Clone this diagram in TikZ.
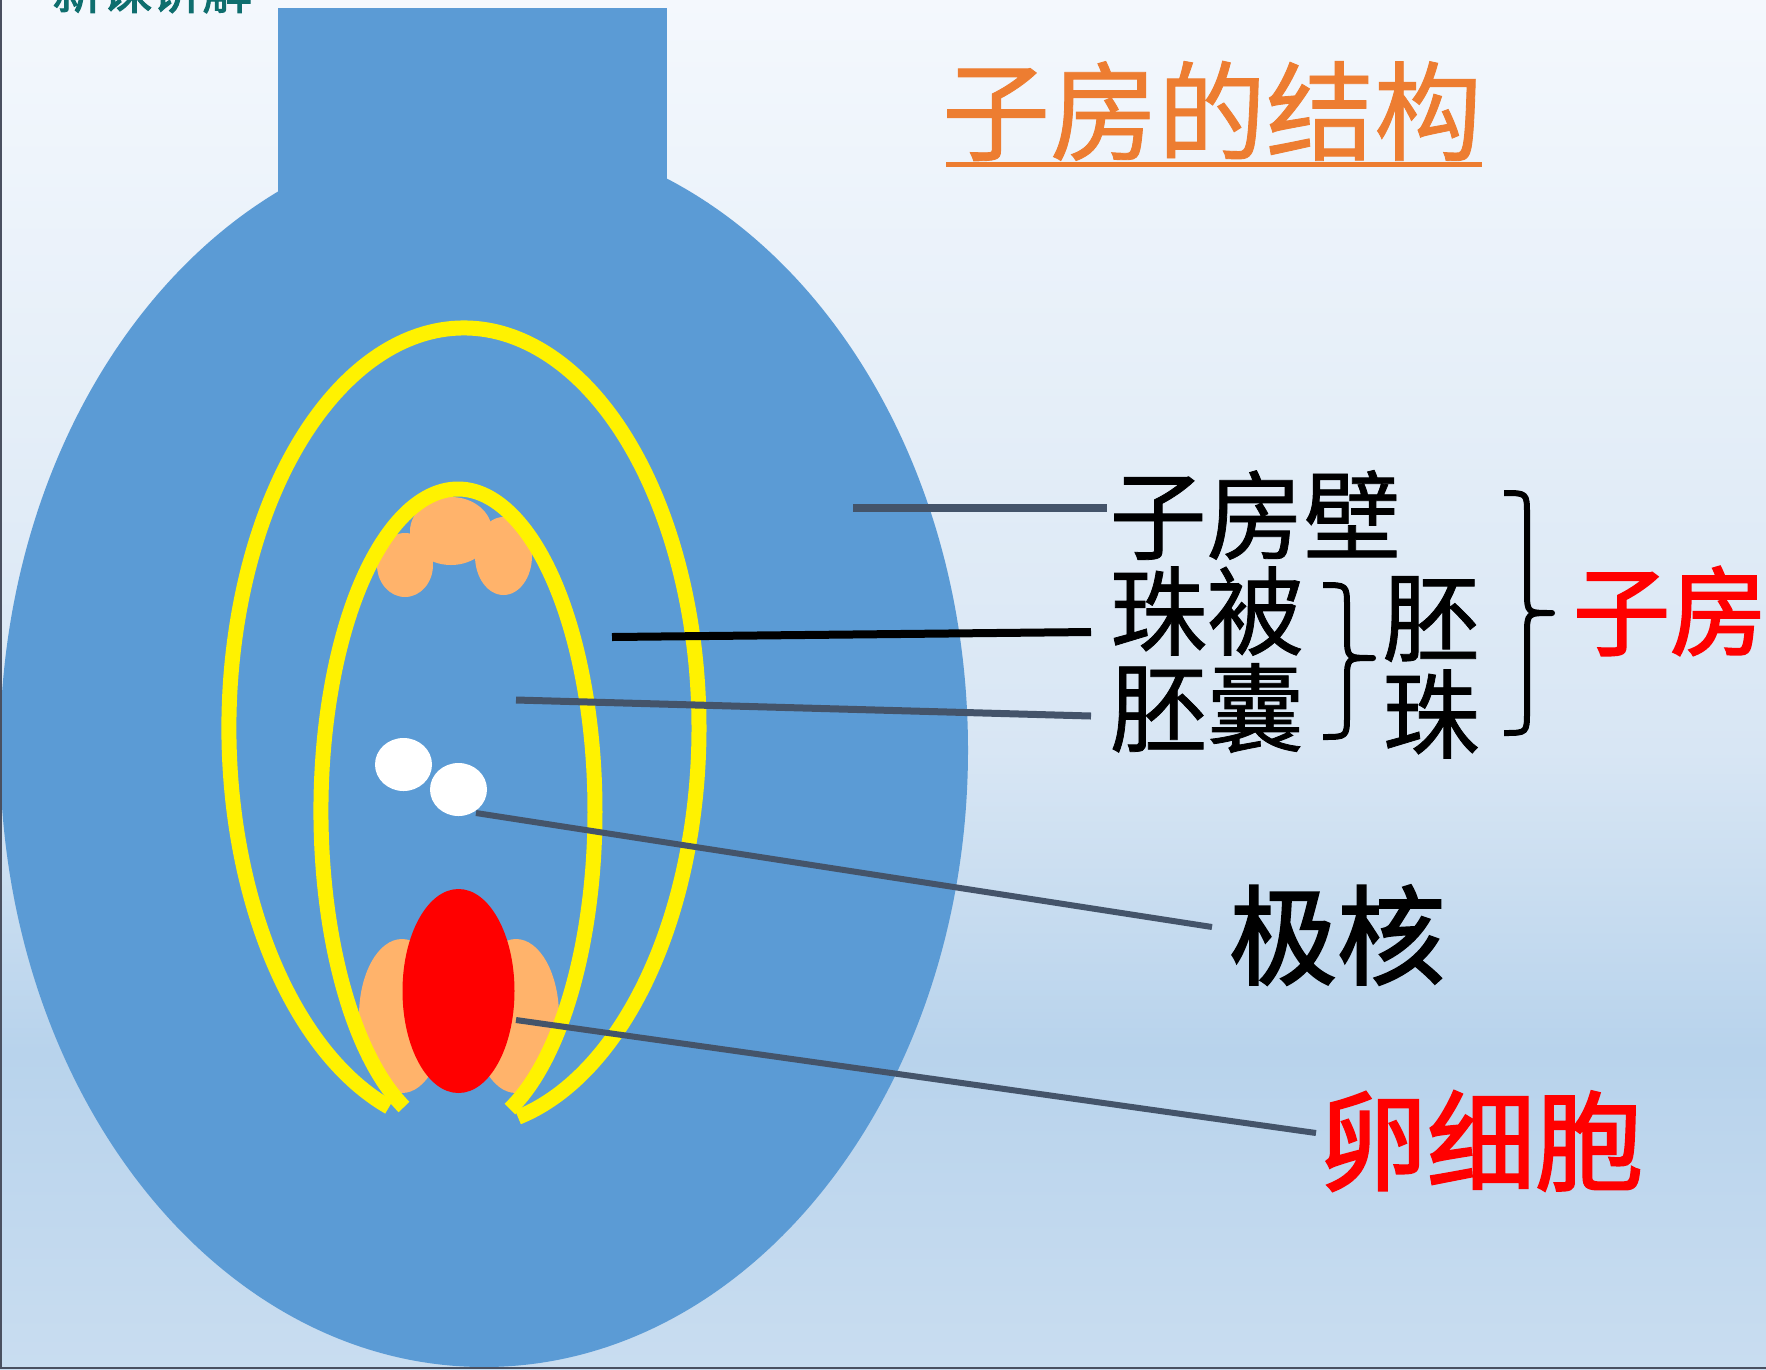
\documentclass[tikz,border=0pt]{standalone}
\usepackage{fontspec}
\newfontfamily\cjk[FakeBold=0.8]{Noto Sans CJK SC}
\newfontfamily\cjkheavy[FakeBold=2]{Noto Sans CJK SC}
\definecolor{bgA}{RGB}{244,248,253}
\definecolor{bgB}{RGB}{216,230,244}
\definecolor{bgC}{RGB}{184,211,236}
\definecolor{bgD}{RGB}{201,221,240}
\definecolor{ovaryblue}{RGB}{91,155,213}
\definecolor{cellorange}{RGB}{255,179,107}
\definecolor{slate}{RGB}{68,84,106}
\definecolor{titleorange}{RGB}{237,125,49}
\definecolor{headteal}{RGB}{14,110,110}
\definecolor{framegray}{RGB}{74,80,96}
\begin{document}
\begin{tikzpicture}[x=1pt,y=-1pt,
  ring/.style={draw=yellow,line width=15,line cap=butt},
  pointer/.style={draw=slate,line width=6},
  bracket/.style={draw=black,line width=6,line join=round},
  lbl/.style={font=\cjk\fontsize{97}{97}\selectfont,inner sep=0,anchor=center},
  biglbl/.style={font=\cjkheavy\fontsize{108}{108}\selectfont,inner sep=0,anchor=center}]
\useasboundingbox (0,0) rectangle (1766,1369);

% slide background
\shade[top color=bgA,bottom color=bgB] (0,-1) rectangle (1766,751);
\shade[top color=bgB,bottom color=bgC] (0,750) rectangle (1766,1051);
\shade[top color=bgC,bottom color=bgD] (0,1050) rectangle (1766,1370);

% section heading, cut by the top of the slide
\begin{scope}
  \clip (0,0) rectangle (1766,1369);
  \node[font=\cjkheavy\fontsize{50}{50}\selectfont,text=headteal,inner sep=0,anchor=base west] (heading) at (52,9) {新课讲解};
\end{scope}

% ovary with style
\fill[ovaryblue] (278,8) rectangle (667,320);
\fill[ovaryblue] (484,750) ellipse [x radius=484,y radius=617];

% antipodal cells
\fill[cellorange] (451,531) ellipse [x radius=41,y radius=34];
\fill[cellorange] (405,565) ellipse [x radius=28,y radius=32];
\fill[cellorange] (503.5,556) ellipse [x radius=28.5,y radius=39];

% egg apparatus
\fill[cellorange] (402,1016) ellipse [x radius=43,y radius=77];
\fill[cellorange] (516,1016) ellipse [x radius=43,y radius=77];
\fill[red] (458.5,991) ellipse [x radius=56,y radius=102];

% polar nuclei
\fill[white] (403.5,764.5) ellipse [x radius=28.5,y radius=26.5];
\fill[white] (458.5,789.5) ellipse [x radius=28.5,y radius=26.5];

% integuments: two open rings
\draw[ring] (389.0,1107.1) arc [start angle=108.6,end angle=436.7,x radius=235,y radius=400];
\draw[ring] (404.0,1107.0) arc [start angle=113.2,end angle=427.7,x radius=137,y radius=322];

% labels
\node[lbl] (wall) at (1255,515) {子房壁};
\node[lbl] (integ) at (1207,611) {珠被};
\node[lbl] (sac) at (1207,708) {胚囊};
\node[lbl] (ovuleA) at (1431,619) {胚};
\node[lbl] (ovuleB) at (1431,714) {珠};
\node[lbl,font=\cjkheavy\fontsize{97}{97}\selectfont,text=red] (ovary) at (1670,611) {子房};
\node[biglbl] (polar) at (1337,935) {极核};
\node[biglbl,text=red] (egg) at (1481,1141) {卵细胞};
\node[biglbl,font=\cjk\fontsize{108}{108}\selectfont,text=titleorange] (title) at (1212,111) {子房的结构};
\coordinate (ulA) at (946,164);
\coordinate (ulB) at (1482,164);
\draw[titleorange,line width=5] (ulA) -- (ulB);

% pointer lines
\coordinate (wallA) at (853,508);   \coordinate (wallB) at (1107,508);
\coordinate (integA) at (612,637);  \coordinate (integB) at (1091,632);
\coordinate (sacA) at (516,700);    \coordinate (sacB) at (1091,716);
\coordinate (polarA) at (476,813);  \coordinate (polarB) at (1212,927);
\coordinate (eggA) at (516,1020);   \coordinate (eggB) at (1316,1133);
\draw[pointer,line width=8] (wallA) -- (wallB);
\draw[pointer,draw=black,line width=8] (integA) -- (integB);
\draw[pointer,line width=7] (sacA) -- (sacB);
\draw[pointer] (polarA) -- (polarB);
\draw[pointer] (eggA) -- (eggB);

% braces
\draw[bracket] (1323,585) .. controls (1347,585) .. (1347,607) -- (1347,636)
  .. controls (1347,658) .. (1373,658) .. controls (1347,658) .. (1347,680)
  -- (1347,715) .. controls (1347,737) .. (1323,737);
\draw[bracket] (1504,493) .. controls (1527,493) .. (1527,515) -- (1527,591)
  .. controls (1527,613) .. (1552,613) .. controls (1527,613) .. (1527,635)
  -- (1527,711) .. controls (1527,733) .. (1504,733);

% slide frame
\draw[framegray,line width=1.6] (0.8,0) -- (0.8,1368.2) -- (1766,1368.2);
\end{tikzpicture}
\end{document}
